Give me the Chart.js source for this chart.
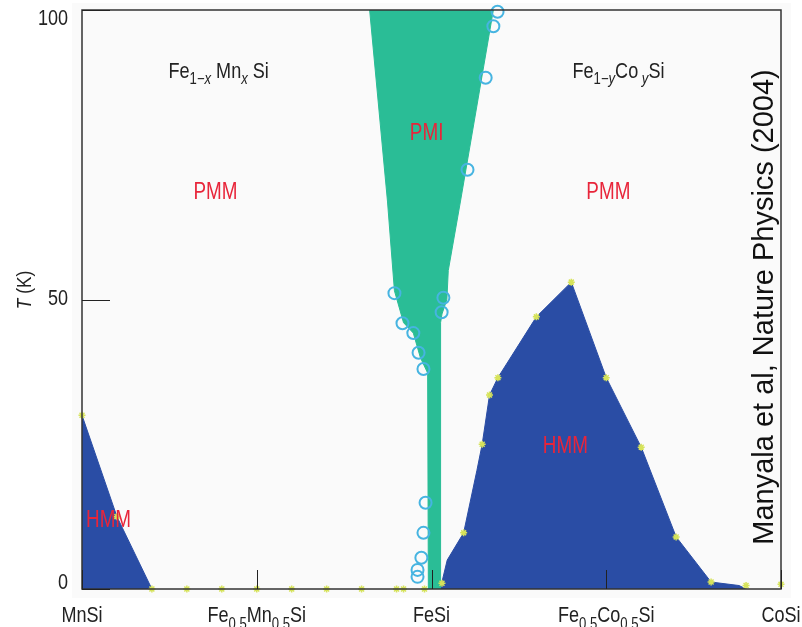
<!DOCTYPE html>
<html>
<head>
<meta charset="utf-8">
<script src="https://cdn.jsdelivr.net/npm/chart.js@4.4.0/dist/chart.umd.min.js"></script>
<style>
  html, body { margin: 0; padding: 0; background: #fff; }
  canvas { display: block; }
</style>
</head>
<body>
<canvas id="phaseChart" width="802" height="627"></canvas>
<script>
// composition axis: -1 = MnSi, 0 = FeSi, +1 = CoSi ; y = temperature in K
const xTicks = [-1, -0.5, 0, 0.5, 1];
const xTickLabels = [
    [{ t: 'MnSi' }],
    [{ t: 'Fe' }, { t: '0.5', sub: true }, { t: 'Mn' }, { t: '0.5', sub: true }, { t: 'Si' }],
    [{ t: 'FeSi' }],
    [{ t: 'Fe' }, { t: '0.5', sub: true }, { t: 'Co' }, { t: '0.5', sub: true }, { t: 'Si' }],
    [{ t: 'CoSi' }]
];
const yTicks = [0, 50, 100];
const yTickLabels = ['0', '50', '100'];

// HMM, Mn side
const hmmMnX = [-1, -0.9, -0.8];
const hmmMnT = [30, 12.5, 0];

// HMM, Co side
const hmmCoX = [0.025, 0.045, 0.092, 0.13, 0.145, 0.166, 0.19, 0.3, 0.4, 0.5, 0.6, 0.7, 0.8, 0.88, 0.9];
const hmmCoT = [0, 5, 9.7, 20.5, 25, 33.5, 36.5, 47, 53, 36.5, 24.5, 9, 1.2, 0.6, 0];

// PMI outline (closed)
const pmiX = [-0.177, -0.126, -0.106, -0.08, -0.052, -0.032, -0.011, -0.009, 0.026, 0.026, 0.03, 0.044, 0.048, 0.083, 0.177];
const pmiT = [100, 67, 51.5, 46, 44.2, 40, 37.3, 0, 0, 46, 47.5, 50, 55, 67, 100];

// open circles (PMI boundary data)
const circX = [0.189, 0.177, 0.155, 0.103, -0.106, 0.034, 0.029, -0.083, -0.052, -0.037, -0.023, -0.017, -0.023, -0.029, -0.04, -0.04];
const circT = [99.7, 97.2, 88.3, 72.4, 51.1, 50.3, 47.8, 45.9, 44.2, 40.8, 38, 14.9, 9.7, 5.4, 3.3, 2.1];

// small yellow markers (HMM boundary data)
const yelX = [-1, -0.9, -0.8, -0.7, -0.6, -0.5, -0.4, -0.3, -0.2, -0.1, -0.08, -0.02, 0.03, 0.092, 0.145, 0.166, 0.19, 0.3, 0.4, 0.5, 0.6, 0.7, 0.8, 0.9, 1.0];
const yelT = [30, 12.5, 0, 0, 0, 0, 0, 0, 0, 0, 0, 0, 1, 9.7, 25, 33.5, 36.5, 47, 53, 36.5, 24.5, 9, 1.2, 0.6, 0.8];

const GREEN = '#2abd96';
const BLUE = '#2a4da5';
const RED = '#e8253a';
const NARROW = 0.82;

const toPts = (xs, ys) => xs.map((x, i) => ({ x: x, y: ys[i] }));

function fontFor(p, size) {
    const s = p.sub ? Math.round(size * 0.72) : size;
    return (p.i ? 'italic ' : '') + s + 'px "Liberation Sans", Arial, sans-serif';
}

// condensed text with subscripts
function drawRich(ctx, parts, x, y, size, align, color) {
    ctx.save();
    ctx.fillStyle = color;
    ctx.textBaseline = 'alphabetic';
    ctx.textAlign = 'left';
    const widths = parts.map(p => { ctx.font = fontFor(p, size); return ctx.measureText(p.t).width; });
    const total = widths.reduce((a, b) => a + b, 0) * NARROW;
    let start = x;
    if (align === 'center') start = x - total / 2;
    if (align === 'right') start = x - total;
    ctx.translate(start, y);
    ctx.scale(NARROW, 1);
    let cx = 0;
    parts.forEach((p, i) => {
        ctx.font = fontFor(p, size);
        ctx.fillText(p.t, cx, p.sub ? size * 0.3 : 0);
        cx += widths[i];
    });
    ctx.restore();
}

const backgroundPlugin = {
    id: 'bg',
    beforeDraw(chart) {
        const { ctx, chartArea: a } = chart;
        ctx.save();
        ctx.fillStyle = '#fafafa';
        ctx.fillRect(a.left - 10, a.top - 7, a.right - a.left + 20, a.bottom - a.top + 16);
        ctx.restore();
    }
};

const framePlugin = {
    id: 'frame',
    afterDraw(chart) {
        const { ctx, chartArea: a, scales: { x, y } } = chart;
        ctx.save();
        ctx.strokeStyle = '#333';
        ctx.lineWidth = 1.5;
        ctx.strokeRect(a.left, a.top, a.right - a.left, a.bottom - a.top);

        // inward ticks
        ctx.lineWidth = 1;
        ctx.strokeStyle = '#222';
        xTicks.forEach(v => {
            const px = Math.round(x.getPixelForValue(v)) + 0.5;
            ctx.beginPath();
            ctx.moveTo(px, a.bottom);
            ctx.lineTo(px, a.bottom - 19);
            ctx.stroke();
        });
        yTicks.forEach(v => {
            const py = Math.round(y.getPixelForValue(v)) + 0.5;
            ctx.beginPath();
            ctx.moveTo(a.left, py);
            ctx.lineTo(a.left + 28, py);
            ctx.stroke();
        });

        // tick labels
        xTicks.forEach((v, i) => {
            drawRich(ctx, xTickLabels[i], x.getPixelForValue(v), a.bottom + 33, 22, 'center', '#222');
        });
        yTicks.forEach((v, i) => {
            const py = Math.min(Math.max(y.getPixelForValue(v) + 5, a.top + 15), a.bottom);
            drawRich(ctx, [{ t: yTickLabels[i] }], a.left - 14, py, 22, 'right', '#222');
        });

        // axis title
        ctx.save();
        ctx.translate(31, 290);
        ctx.rotate(-Math.PI / 2);
        drawRich(ctx, [{ t: 'T', i: true }, { t: ' (K)' }], 0, 0, 21, 'center', '#222');
        ctx.restore();

        // region labels
        const lab = (parts, vx, vy, size, color) =>
            drawRich(ctx, parts, x.getPixelForValue(vx), y.getPixelForValue(vy), size, 'center', color);
        lab([{ t: 'Fe' }, { t: '1\u2212', sub: true }, { t: 'x', sub: true, i: true }, { t: ' Mn' },
             { t: 'x', sub: true, i: true }, { t: ' Si' }], -0.609, 88.3, 22, '#222');
        lab([{ t: 'Fe' }, { t: '1\u2212', sub: true }, { t: 'y', sub: true, i: true }, { t: 'Co' },
             { t: ' y', sub: true, i: true }, { t: 'Si' }], 0.535, 88.3, 22, '#222');
        lab([{ t: 'PMM' }], -0.618, 67.4, 23, RED);
        lab([{ t: 'PMM' }], 0.506, 67.4, 23, RED);
        lab([{ t: 'PMI' }], -0.014, 77.5, 23, RED);
        lab([{ t: 'HMM' }], 0.383, 23.5, 23, RED);
        lab([{ t: 'HMM' }], -0.924, 10.7, 23, RED);

        // citation
        ctx.translate(773, 307);
        ctx.rotate(-Math.PI / 2);
        ctx.font = '29px "Liberation Sans", Arial, sans-serif';
        ctx.fillStyle = '#111';
        ctx.textAlign = 'center';
        ctx.textBaseline = 'alphabetic';
        ctx.fillText('Manyala et al, Nature Physics (2004)', 0, 0);
        ctx.restore();
    }
};

new Chart(document.getElementById('phaseChart'), {
    type: 'scatter',
    data: {
        datasets: [
            {
                label: 'yellow',
                data: toPts(yelX, yelT),
                pointStyle: 'star',
                pointRadius: 3.5,
                borderColor: '#d6e35a',
                backgroundColor: '#d6e35a',
                borderWidth: 1.5,
                clip: false,
                order: 1
            },
            {
                label: 'circles',
                data: toPts(circX, circT),
                pointStyle: 'circle',
                pointRadius: 6,
                borderColor: '#46b4e1',
                backgroundColor: 'rgba(0,0,0,0)',
                borderWidth: 2,
                clip: false,
                order: 2
            },
            {
                label: 'PMI',
                data: toPts(pmiX, pmiT),
                showLine: true,
                fill: 'shape',
                tension: 0,
                backgroundColor: GREEN,
                borderColor: GREEN,
                borderWidth: 1,
                pointRadius: 0,
                order: 3
            },
            {
                label: 'HMM Mn',
                data: toPts(hmmMnX, hmmMnT),
                showLine: true,
                fill: 'origin',
                tension: 0,
                backgroundColor: BLUE,
                borderColor: BLUE,
                borderWidth: 1,
                pointRadius: 0,
                order: 4
            },
            {
                label: 'HMM Co',
                data: toPts(hmmCoX, hmmCoT),
                showLine: true,
                fill: 'origin',
                tension: 0,
                backgroundColor: BLUE,
                borderColor: BLUE,
                borderWidth: 1,
                pointRadius: 0,
                order: 5
            }
        ]
    },
    options: {
        responsive: false,
        animation: false,
        layout: { padding: { left: 82, top: 10, right: 21, bottom: 38 } },
        scales: {
            x: { type: 'linear', min: -1, max: 1, display: false },
            y: { type: 'linear', min: 0, max: 100, display: false }
        },
        plugins: {
            legend: { display: false },
            tooltip: { enabled: false }
        }
    },
    plugins: [backgroundPlugin, framePlugin]
});
</script>
</body>
</html>
